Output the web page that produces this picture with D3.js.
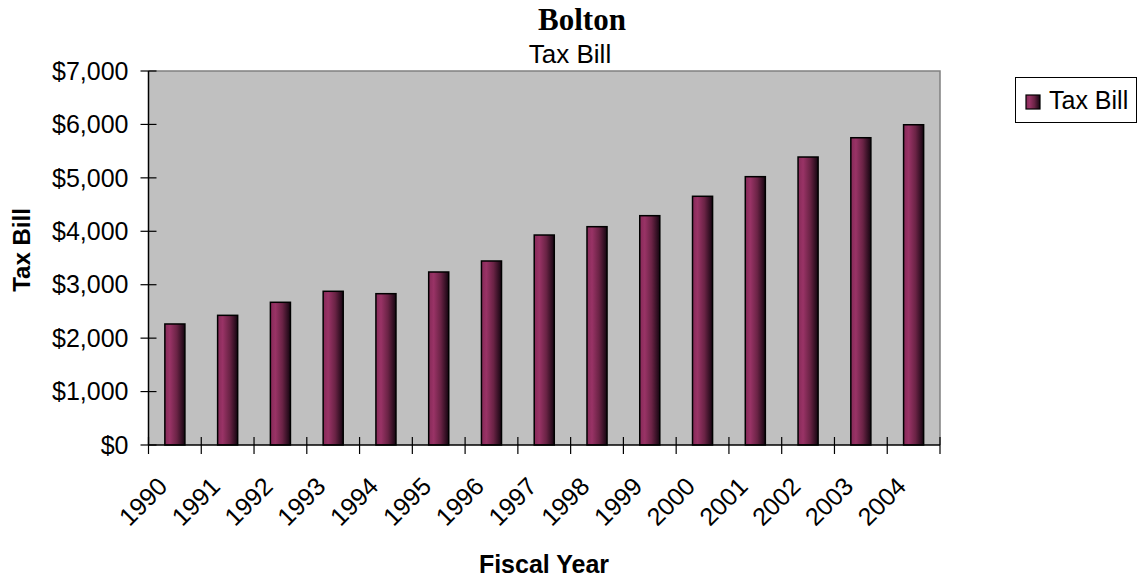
<!DOCTYPE html>
<html><head><meta charset="utf-8">
<script src="https://cdn.jsdelivr.net/npm/d3@7"></script>
<style>body{margin:0;background:#fff}svg{display:block}</style>
</head><body>
<svg id="c" width="1138" height="579"></svg>
<script>
const years = ["1990","1991","1992","1993","1994","1995","1996","1997","1998","1999","2000","2001","2002","2003","2004"];
const taxBill = [2265,2427,2671,2877,2832,3238,3444,3930,4086,4292,4655,5022,5390,5751,5994];
const yTicks = [0,1000,2000,3000,4000,5000,6000,7000];
const seriesName = "Tax Bill";
const title = "Bolton";
const subtitle = "Tax Bill";
const xTitle = "Fiscal Year";
const yTitle = "Tax Bill";

const svg = d3.select("#c");
const L = 148.5, R = 940, T = 71, B = 445;
const x = d3.scaleBand().domain(years).range([L, R]).padding(0);
const y = d3.scaleLinear().domain([0, 7000]).range([B, T]);
const fmt = v => "$" + d3.format(",")(v);
const sans = "Liberation Sans, Arial, sans-serif";

const defs = svg.append("defs");
const g = defs.append("linearGradient").attr("id","bar").attr("x1","0").attr("x2","1").attr("y1","0").attr("y2","0");
g.append("stop").attr("offset","0%").attr("stop-color","#862a58");
g.append("stop").attr("offset","25%").attr("stop-color","#993366");
g.append("stop").attr("offset","60%").attr("stop-color","#6a2345");
g.append("stop").attr("offset","100%").attr("stop-color","#140510");

// plot area
svg.append("rect").attr("x", L).attr("y", T).attr("width", R - L).attr("height", B - T).attr("fill", "#c0c0c0");
svg.append("path").attr("d", `M${L},${T}H${R}V${B}`).attr("fill","none").attr("stroke","#808080").attr("stroke-width",1.5);

// bars
const step = x.step();
svg.append("g").selectAll("rect").data(taxBill).join("rect")
  .attr("x", (d,i) => x(years[i]) + step*0.31)
  .attr("width", step*0.38)
  .attr("y", d => y(d))
  .attr("height", d => y(0) - y(d))
  .attr("fill", "url(#bar)")
  .attr("stroke", "#000").attr("stroke-width", 1.5);

// axes lines
svg.append("line").attr("x1", L).attr("x2", L).attr("y1", T).attr("y2", B).attr("stroke","#000").attr("stroke-width",1.5);
svg.append("line").attr("x1", L).attr("x2", R).attr("y1", B).attr("y2", B).attr("stroke","#000").attr("stroke-width",1.5);

// y ticks
const yt = svg.append("g");
yTicks.forEach(v => {
  yt.append("line").attr("x1", L - 8).attr("x2", L + 8).attr("y1", y(v)).attr("y2", y(v)).attr("stroke","#000").attr("stroke-width",1.2);
  yt.append("text").attr("x", L - 20).attr("y", y(v)).attr("dy","0.35em").attr("text-anchor","end")
    .attr("font-family", sans).attr("font-size", 25).text(fmt(v));
});

// x ticks
const xt = svg.append("g");
const bounds = years.map(d => x(d)).concat([R]);
bounds.forEach(px => {
  xt.append("line").attr("x1", px).attr("x2", px).attr("y1", B - 8).attr("y2", B + 9).attr("stroke","#000").attr("stroke-width",1.2);
});
years.forEach(d => {
  const cx = x(d) + step/2 - 6, cy = 488;
  xt.append("text").attr("transform", `translate(${cx},${cy}) rotate(-45)`).attr("text-anchor","end")
    .attr("font-family", sans).attr("font-size", 25).text(d);
});

// titles
svg.append("text").attr("x", 582).attr("y", 30).attr("text-anchor","middle")
  .attr("font-family","Liberation Serif, Times New Roman, serif").attr("font-weight","bold").attr("font-size", 31).text(title);
svg.append("text").attr("x", 570).attr("y", 63).attr("text-anchor","middle")
  .attr("font-family", sans).attr("font-size", 26).text(subtitle);
svg.append("text").attr("x", 544).attr("y", 573).attr("text-anchor","middle")
  .attr("font-family", sans).attr("font-weight","bold").attr("font-size", 25).text(xTitle);
svg.append("text").attr("transform", "translate(30,250) rotate(-90)").attr("text-anchor","middle")
  .attr("font-family", sans).attr("font-weight","bold").attr("font-size", 24).text(yTitle);

// legend
const lg = svg.append("g");
lg.append("rect").attr("x", 1015.5).attr("y", 77.5).attr("width", 121).attr("height", 45).attr("fill","#fff").attr("stroke","#000").attr("stroke-width",1);
lg.append("rect").attr("x", 1026).attr("y", 95).attr("width", 14).attr("height", 14).attr("fill","url(#bar)").attr("stroke","#000").attr("stroke-width",1.2);
lg.append("text").attr("x", 1049).attr("y", 109).attr("font-family", sans).attr("font-size", 25).text(seriesName);
</script>
</body></html>
